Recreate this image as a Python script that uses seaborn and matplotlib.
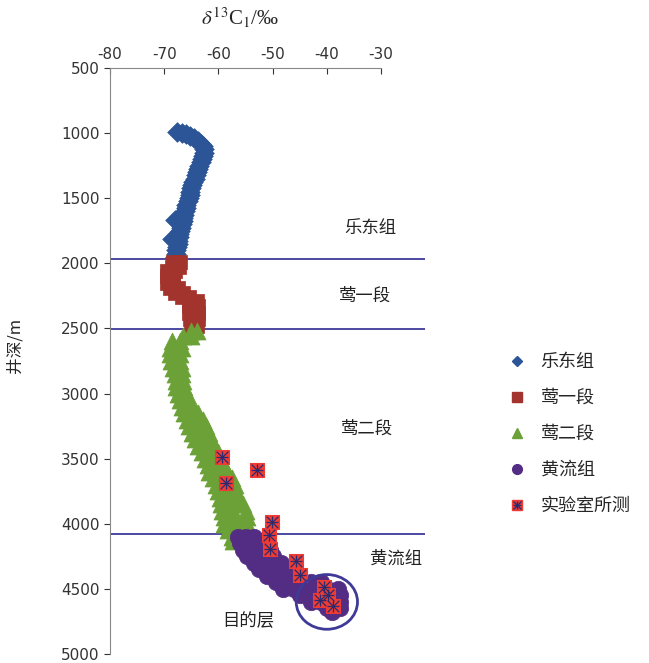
import matplotlib
matplotlib.use('Agg')
import matplotlib.pyplot as plt
from matplotlib.lines import Line2D
from matplotlib.patches import Ellipse
from matplotlib.legend_handler import HandlerTuple
import seaborn as sns
import pandas as pd

# 乐东组
ledong_depth = [990, 1000, 1010, 1025, 1040, 1060, 1080, 1100, 1125, 1150, 1175, 1200, 1225, 1250,
                1275, 1300, 1325, 1350, 1375, 1400, 1425, 1450, 1475, 1500, 1525, 1550, 1575, 1600,
                1625, 1650, 1665, 1675, 1700, 1725, 1750, 1775, 1800, 1815, 1825, 1850, 1875, 1900,
                1925, 1950]
ledong_c13 = [-67.6, -66.8, -66.0, -65.2, -64.5, -63.8, -63.3, -62.9, -62.6, -62.6, -62.8, -63.0, -63.2, -63.5,
              -63.7, -64.0, -64.2, -64.4, -64.6, -64.8, -65.0, -65.2, -65.3, -65.5, -65.7, -65.9, -66.0, -66.2,
              -66.3, -66.5, -68.0, -66.6, -66.8, -66.9, -67.0, -67.2, -67.3, -68.5, -67.4, -67.5, -67.6, -67.8,
              -67.9, -68.0]

# 莺一段
ying1_depth = [1990, 1990, 2030, 2030, 2060, 2060, 2100, 2100, 2150, 2150, 2190, 2190, 2230, 2230,
               2260, 2260, 2290, 2290, 2330, 2330, 2380, 2380, 2430, 2430, 2480, 2480, 2510]
ying1_c13 = [-68.3, -67.0, -68.5, -67.2, -69.5, -68.0, -69.5, -68.3, -69.5, -68.3, -69.0, -67.5, -68.0, -66.5,
             -66.8, -65.5, -65.5, -64.0, -65.5, -63.8, -65.5, -63.8, -65.3, -63.8, -65.0, -64.0, -64.8]

# 莺二段
ying2_depth = [2520, 2520, 2560, 2560, 2600, 2600,
               2650, 2650, 2650, 2700, 2700, 2700, 2750, 2750, 2750, 2800, 2800, 2800,
               2850, 2850, 2850, 2900, 2900, 2900, 2950, 2950, 2950, 3000, 3000, 3000,
               3050, 3050, 3050, 3100, 3100, 3100, 3150, 3150, 3150, 3200, 3200, 3200,
               3250, 3250, 3250, 3300, 3300, 3300, 3350, 3350, 3350, 3400, 3400, 3400,
               3450, 3450, 3450, 3500, 3500, 3500, 3550, 3550, 3550, 3600, 3600, 3600,
               3650, 3650, 3650, 3700, 3700, 3700, 3750, 3750, 3750, 3800, 3800, 3800,
               3850, 3850, 3850, 3900, 3900, 3900, 3950, 3950, 3950, 4000, 4000, 4000,
               4050, 4050, 4050, 4100, 4100, 4130]
ying2_c13 = [-65.0, -64.0, -66.5, -65.0, -68.5, -67.0,
             -69.0, -67.8, -66.8, -69.0, -67.8, -67.0, -68.8, -67.8, -67.0, -68.3, -67.5, -66.8,
             -68.0, -67.3, -66.8, -67.8, -67.0, -66.5, -67.8, -67.0, -66.3, -67.5, -66.5, -66.0,
             -67.0, -66.0, -65.3, -66.8, -65.8, -64.8, -66.3, -64.8, -63.8, -65.8, -64.3, -62.8,
             -65.5, -63.8, -62.3, -64.8, -63.3, -61.8, -64.3, -62.8, -61.3, -63.8, -62.3, -60.8,
             -63.0, -61.5, -60.0, -62.5, -61.0, -59.8, -62.0, -60.3, -59.0, -61.8, -60.0, -58.5,
             -61.0, -59.3, -57.5, -60.5, -58.8, -57.0, -60.0, -58.3, -56.8, -59.8, -58.0, -56.3,
             -59.5, -57.5, -55.5, -59.3, -57.3, -55.0, -59.0, -57.0, -54.8, -59.0, -56.8, -54.8,
             -58.3, -56.5, -55.0, -57.5, -56.3, -57.3]

# 黄流组
huangliu_depth = [4100, 4100, 4100, 4150, 4150, 4150, 4150, 4200, 4200, 4200, 4200,
                  4250, 4250, 4250, 4250, 4300, 4300, 4300, 4300, 4350, 4350, 4350,
                  4400, 4400, 4400, 4400, 4450, 4450, 4450, 4450, 4450,
                  4500, 4500, 4500, 4500, 4500, 4500, 4550, 4550, 4550, 4550, 4550,
                  4600, 4600, 4600, 4600, 4650, 4650, 4650, 4680]
huangliu_c13 = [-56.3, -55.0, -53.5, -56.0, -54.5, -53.0, -52.0, -55.5, -53.5, -51.5, -50.5,
                -54.8, -52.8, -50.8, -50.0, -53.5, -51.5, -49.5, -48.5, -52.5, -50.5, -48.5,
                -51.0, -49.0, -47.0, -45.5, -49.3, -47.3, -45.3, -43.0, -41.0,
                -48.0, -46.0, -44.0, -42.0, -40.0, -38.0, -45.0, -43.0, -41.0, -39.0, -37.5,
                -43.0, -41.0, -39.0, -37.5, -40.0, -38.5, -37.5, -39.0]

# 实验室所测
lab_depth = [3489, 3586, 3685, 3986, 4089, 4191, 4288, 4395, 4484, 4548, 4586, 4629]
lab_c13 = [-59.4, -52.9, -58.6, -50.2, -50.6, -50.5, -45.7, -44.9, -40.6, -39.7, -41.3, -38.8]

boundary_depths = [1968, 2506, 4080]
zone_labels = ['乐东组', '莺一段', '莺二段', '黄流组', '目的层']
zone_label_x = [-32.0, -33.0, -32.6, -27.2, -54.5]
zone_label_y = [1725, 2246, 3272, 4267, 4750]

c_blue = '#2c5597'
c_red = '#a3332d'
c_green = '#6ba136'
c_purple = '#532c84'
c_lab = '#ee3b34'
c_navy = '#2e2a6e'
c_line = '#3f3a98'

sns.set_style('white')
plt.rcParams['font.family'] = ['DejaVu Sans', 'Noto Sans CJK SC']
plt.rcParams['axes.unicode_minus'] = False
cjk = ['Noto Sans CJK SC', 'DejaVu Sans']

fig = plt.figure(figsize=(6.49, 6.63), dpi=100)
ax = fig.add_axes([110 / 649, 1 - 654 / 663, (425 - 110) / 649, (654 - 68) / 663])

series = [
    (ledong_depth, ledong_c13, 'D', 100, c_blue),
    (ying1_depth, ying1_c13, 's', 110, c_red),
    (ying2_depth, ying2_c13, '^', 150, c_green),
    (huangliu_depth, huangliu_c13, 'o', 140, c_purple),
]
for dep, val, mk, sz, col in series:
    df = pd.DataFrame({'c13': val, 'depth': dep})
    sns.scatterplot(data=df, x='c13', y='depth', marker=mk, s=sz, color=col,
                    edgecolor=col, linewidth=0.5, ax=ax, zorder=3)

lab_df = pd.DataFrame({'c13': lab_c13, 'depth': lab_depth})
sns.scatterplot(data=lab_df, x='c13', y='depth', marker='s', s=95, color=c_lab,
                edgecolor=c_lab, ax=ax, zorder=4)
sns.scatterplot(data=lab_df, x='c13', y='depth', marker='x', s=70, color=c_navy,
                linewidth=0.9, ax=ax, zorder=5)
sns.scatterplot(data=lab_df, x='c13', y='depth', marker='+', s=70, color=c_navy,
                linewidth=0.9, ax=ax, zorder=5)

for d in boundary_depths:
    ax.axhline(d, color=c_line, lw=1.3, zorder=2)

ax.add_patch(Ellipse((-40.0, 4600), 11.3, 420, fill=False, edgecolor=c_line, lw=2.0, zorder=6))

for t, x, y in zip(zone_labels, zone_label_x, zone_label_y):
    ax.text(x, y, t, ha='center', va='center', fontsize=12.5, family=cjk, color='#222222')

ax.set_xlim(-80, -21.9)
ax.set_ylim(5000, 500)
ax.set_xticks(range(-80, -29, 10))
ax.set_yticks(range(500, 5001, 500))
ax.xaxis.tick_top()
ax.tick_params(axis='x', direction='in', length=4, labelsize=11, pad=4, colors='#333333')
ax.tick_params(axis='y', direction='out', length=4, labelsize=11, colors='#333333', left=True)
ax.set_xlabel('')
ax.set_ylabel('')
for s in ['right', 'bottom']:
    ax.spines[s].set_visible(False)
ax.spines['top'].set_bounds(-80, -30)
ax.spines['top'].set_color('#888888')
ax.spines['left'].set_color('#888888')
ax.set_facecolor('none')

fig.text(240 / 649, 1 - 18 / 663, r'$\delta^{13}$C$_1$/‰', ha='center', va='center',
         fontsize=15, family='Liberation Serif', math_fontfamily='stix')
fig.text(15 / 649, 1 - 345 / 663, '井深/m', rotation=90, ha='center', va='center',
         fontsize=12, family=cjk)

handles = [
    Line2D([], [], ls='none', marker='D', ms=5, color=c_blue),
    Line2D([], [], ls='none', marker='s', ms=7, color=c_red),
    Line2D([], [], ls='none', marker='^', ms=7, color=c_green),
    Line2D([], [], ls='none', marker='o', ms=7, color=c_purple),
    (Line2D([], [], ls='none', marker='s', ms=7, color=c_lab),
     Line2D([], [], ls='none', marker='x', ms=6, mew=1, color=c_navy),
     Line2D([], [], ls='none', marker='+', ms=6, mew=1, color=c_navy)),
]
labels = ['乐东组', '莺一段', '莺二段', '黄流组', '实验室所测']
fig.legend(handles, labels, loc='center left', bbox_to_anchor=(492 / 649, 1 - 434 / 663),
           frameon=False, prop={'family': cjk, 'size': 13}, labelspacing=1.0,
           handlelength=1.0, handletextpad=0.8, handler_map={tuple: HandlerTuple(ndivide=1)})

fig.savefig('out.png', dpi=100)
